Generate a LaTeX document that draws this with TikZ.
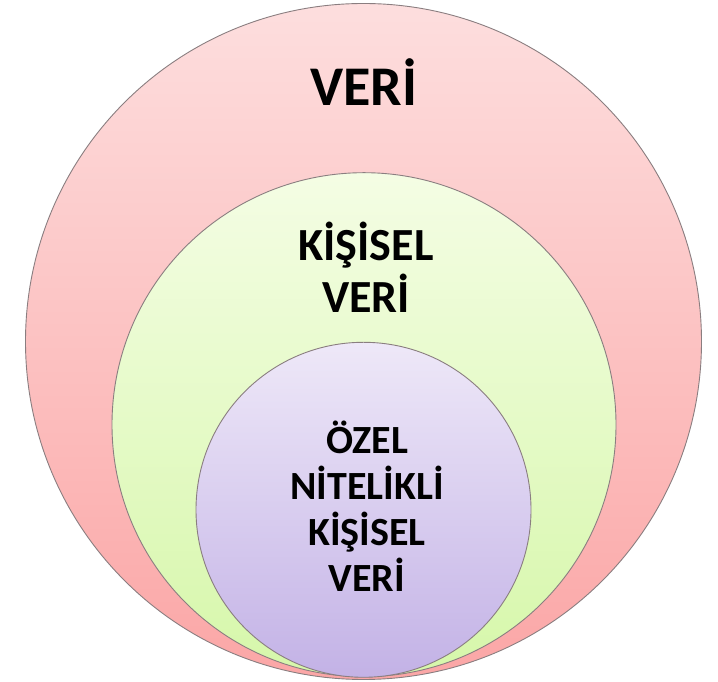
\documentclass[tikz,border=0pt]{standalone}
\usepackage{fontspec}
\setmainfont{Carlito}
\definecolor{veritop}{HTML}{FDDEDE}
\definecolor{veribot}{HTML}{FBA6A6}
\definecolor{kistop}{HTML}{F4FDE4}
\definecolor{kisbot}{HTML}{D6F7AA}
\definecolor{ozeltop}{HTML}{EEE8F8}
\definecolor{ozelbot}{HTML}{C3B2E6}
\definecolor{rim}{HTML}{8A7E80}
\begin{document}
\begin{tikzpicture}[x=1pt,y=1pt,
  ring/.style={circle, inner sep=0pt, draw=rim, line width=0.9pt},
  label/.style={text=black, align=center, inner sep=0pt, anchor=base}]
\useasboundingbox (0,0) rectangle (718,682);
% nested sets, largest first
\node[ring, minimum size=676pt, top color=veritop, bottom color=veribot] (veri) at (363.5,340.5) {};
\node[ring, minimum size=504pt, top color=kistop, bottom color=kisbot] (kisisel) at (364,257.3) {};
\node[ring, minimum size=335pt, top color=ozeltop, bottom color=ozelbot] (ozel) at (363.5,172.2) {};
% set names (anchor = baseline of the last line)
\node[label, font=\fontsize{56}{66}\selectfont\bfseries] (tveri) at (363.5,576) {VERİ};
\node[label, font=\fontsize{46}{52}\selectfont\bfseries] (tkisisel) at (366,369) {KİŞİSEL\\VERİ};
\node[label, font=\fontsize{40}{46}\selectfont\bfseries] (tozel) at (367,90) {ÖZEL\\NİTELİKLİ\\KİŞİSEL\\VERİ};
\end{tikzpicture}
\end{document}
